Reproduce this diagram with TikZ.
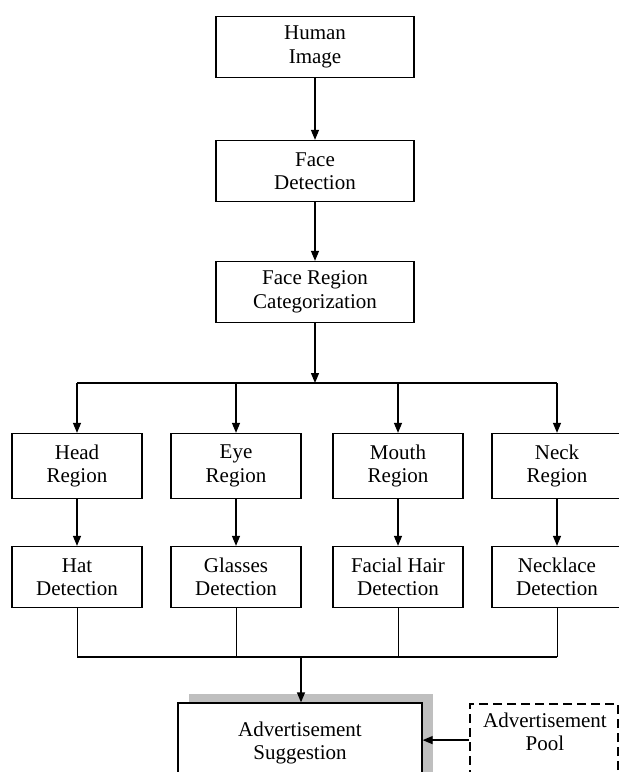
\documentclass[tikz,border=0pt]{standalone}
\usepackage{fontspec}
\setmainfont{Liberation Serif}
\usepackage{tikz}
\usetikzlibrary{calc,positioning,arrows.meta,shadows}

\begin{document}
\begin{tikzpicture}[x=1pt, y=-1pt, font=\fontsize{21}{23.5}\selectfont,
	box/.style={draw, line width=1.3pt, align=center, inner sep=0pt, minimum width=130, minimum height=64},
	topbox/.style={box, minimum width=198, minimum height=61},
	poolbox/.style={draw, line width=2.2pt, dash pattern=on 9pt off 5pt, inner sep=0pt},
	arr/.style={line width=1.3pt, -{Triangle[length=10pt, width=8pt]}}]
\useasboundingbox (0,0) rectangle (619,772);
\clip (0,0) rectangle (619,772);
\node[topbox] (img) at (315,47) {Human\\Image};
\node[topbox] (face) at (315,171) {Face\\Detection};
\node[topbox] (cat) at (315,292) {Face Region\\Categorization};
\draw[arr] (img) -- (face);
\draw[arr] (face) -- (cat);
\coordinate (split) at (315,383);
\coordinate (join) at (301,657);
\draw[arr] (cat) -- (split);
\foreach \n/\x/\a/\b in {head/77/Head/Hat, eye/236/Eye/Glasses, mouth/398/Mouth/Facial Hair, neck/557/Neck/Necklace}{
	\node[box, minimum height=65] (\n) at (\x,466) {\a\\Region};
	\node[box, minimum height=61] (\n-det) at (\x,577) {\b\\Detection};
	\draw[arr] (\n |- split) -- (\n);
	\draw[arr] (\n) -- (\n-det);
	\draw[line width=1pt] (\n-det) -- (\n-det |- join);}
\draw[line width=1.3pt] (head |- split) -- (neck |- split);
\draw[line width=1.3pt] (head-det |- join) -- (neck-det |- join);
\node[box, minimum width=244, minimum height=80, fill=white,
	drop shadow={shadow xshift=11pt, shadow yshift=9pt, fill=black!25, opacity=1}] (sugg) at (300,743) {Advertisement\\Suggestion};
\node[poolbox, minimum width=148, minimum height=72, anchor=north west] (pool) at (469,703) {};
\node[inner sep=0pt, align=center] (pooltxt) at (545,732) {Advertisement\\Pool};
\draw[arr] (join) -- (join |- sugg.north);
\draw[arr] (pool.west) -- (pool.west -| sugg.east);
\end{tikzpicture}
\end{document}
